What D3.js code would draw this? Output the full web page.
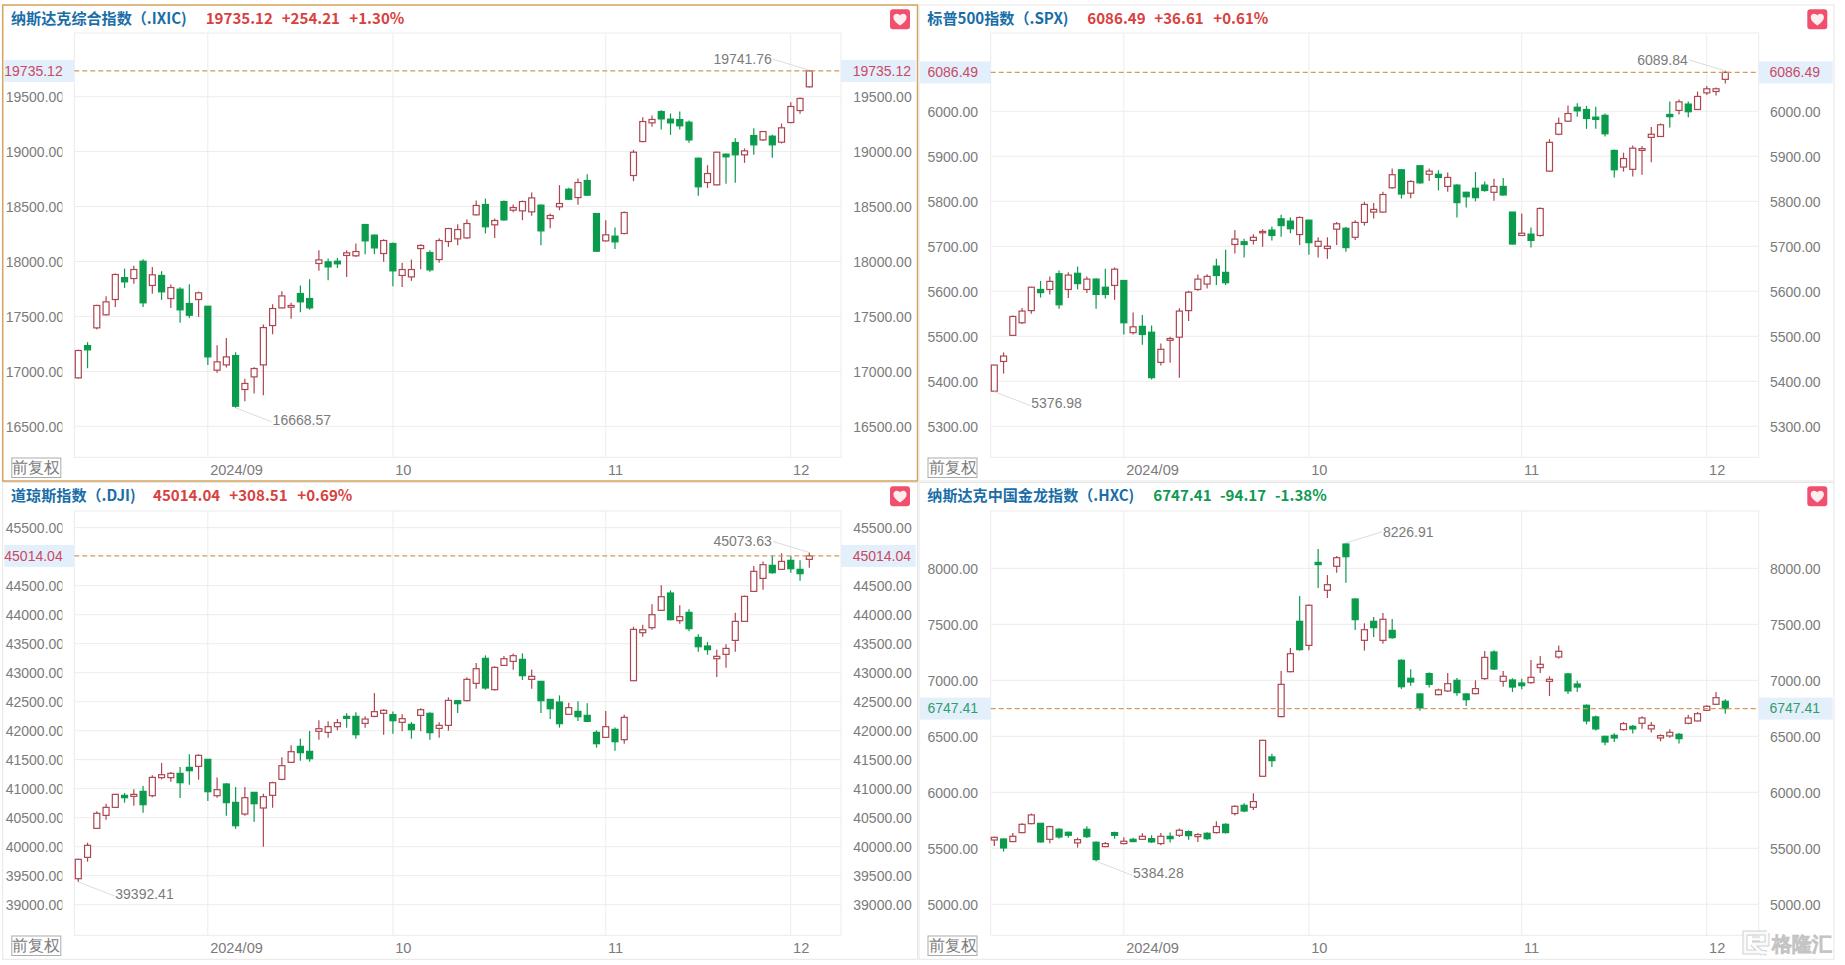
<!DOCTYPE html>
<html><head><meta charset="utf-8">
<style>
html,body{margin:0;padding:0;background:#fff;overflow:hidden}
text{font-family:"Liberation Sans",Arial,sans-serif}
.ttl{font-family:"Noto Sans CJK SC","Noto Sans",sans-serif;font-weight:700;font-size:15.1px}
</style>
<script src="https://cdn.jsdelivr.net/npm/d3@7/dist/d3.min.js"></script>
</head><body><svg id="c" width="1845" height="965"></svg>
<script>
const tradeDates = ["08-13","08-14","08-15","08-16","08-19","08-20","08-21","08-22","08-23","08-26","08-27","08-28","08-29","08-30",
"09-03","09-04","09-05","09-06","09-09","09-10","09-11","09-12","09-13","09-16","09-17","09-18","09-19","09-20","09-23","09-24","09-25","09-26","09-27","09-30",
"10-01","10-02","10-03","10-04","10-07","10-08","10-09","10-10","10-11","10-14","10-15","10-16","10-17","10-18","10-21","10-22","10-23","10-24","10-25","10-28","10-29","10-30","10-31",
"11-01","11-04","11-05","11-06","11-07","11-08","11-11","11-12","11-13","11-14","11-15","11-18","11-19","11-20","11-21","11-22","11-25","11-26","11-27","11-29",
"12-02","12-03","12-04"];
const monthStarts = ["09-03","10-01","11-01","12-02"];
const monthLabels = ["2024/09","10","11","12"];

const ixicOpen=[16941,17235,17396,17515,17654,17854,17845,18003,17782,17873,17663,17748,17618,17654,17593,17011,17059,17144,16835,16950,17059,17417,17578,17584,17709,17663,17982,17997,18003,18055,18052,18337,18240,18073,18164,17873,17860,18118,18082,18018,18182,18206,18215,18425,18519,18334,18546,18467,18461,18452,18513,18391,18498,18658,18582,18737,18437,18188,18231,18255,18783,19092,19262,19365,19296,19292,19268,18940,18719,18698,18977,19083,18971,19147,19107,19141,19086,19265,19374,19590];
const ixicHigh=[17196,17266,17606,17684,17891,17936,17961,18021,17951,17912,17791,17766,17794,17727,17593,17238,17305,17175,16932,17038,17427,17612,17730,17624,17782,17839,18103,18027,18033,18103,18164,18337,18246,18203,18173,17988,18018,18158,18103,18212,18306,18340,18382,18555,18573,18391,18555,18519,18555,18628,18519,18437,18695,18671,18755,18795,18437,18376,18309,18455,19016,19314,19329,19377,19347,19365,19283,18947,18877,18998,18983,19123,19029,19214,19189,19153,19256,19450,19493,19741.76];
const ixicLow=[16932,17029,17381,17508,17587,17760,17797,17587,17706,17651,17578,17442,17487,17496,17059,16987,17035,16668.57,16729,16799,16783,17339,17572,17478,17539,17560,17915,17830,17942,17860,18042,18067,18067,17997,17775,17769,17824,17930,17906,17988,18133,18149,18206,18419,18255,18215,18370,18449,18376,18416,18149,18303,18467,18561,18516,18598,18088,18182,18115,18249,18731,19086,19226,19201,19153,19201,19080,18598,18670,18692,18707,18716,18898,18971,19098,18944,19074,19259,19344,19584];
const ixicClose=[17190,17196,17600,17633,17882,17815,17927,17624,17879,17724,17763,17560,17511,17715,17132,17087,17132,16683,16890,17026,17399,17572,17687,17600,17633,17578,18015,17951,17979,18079,18091,18188,18124,18191,17915,17927,17927,18146,17924,18191,18300,18291,18346,18510,18316,18373,18379,18491,18546,18579,18279,18419,18528,18567,18719,18604,18094,18243,18179,18446,18995,19274,19293,19298,19262,19235,19107,18680,18801,18995,18953,18971,19007,19062,19183,19062,19217,19411,19484,19735.12];

const spxOpen=[5378,5444,5502,5530,5557,5604,5604,5639,5604,5640,5604,5627,5609,5613,5624,5508,5522,5509,5442,5491,5498,5557,5604,5616,5656,5642,5704,5710,5713,5730,5736,5761,5756,5726,5758,5700,5695,5738,5740,5720,5753,5776,5776,5830,5870,5818,5879,5860,5860,5833,5836,5820,5829,5836,5820,5833,5776,5724,5727,5724,5867,5949,5978,6009,6004,5987,5991,5913,5876,5871,5913,5942,5944,5993,6002,6016,6004,6041,6044,6071];
const spxHigh=[5436,5464,5546,5563,5610,5623,5633,5646,5642,5655,5633,5629,5650,5653,5624,5553,5547,5524,5484,5499,5562,5601,5637,5638,5672,5692,5736,5717,5727,5738,5744,5770,5764,5766,5759,5720,5720,5754,5743,5758,5799,5796,5821,5873,5871,5847,5880,5873,5869,5864,5838,5821,5865,5844,5850,5852,5776,5773,5742,5786,5938,5986,6013,6018,6012,6010,5995,5915,5908,5924,5923,5965,5973,6022,6026,6022,6044,6056,6053,6089.84];
const spxLow=[5376.98,5417,5502,5527,5550,5586,5593,5561,5585,5604,5596,5561,5584,5581,5504,5504,5481,5404,5435,5441,5408,5534,5601,5606,5614,5614,5684,5675,5704,5699,5713,5721,5729,5703,5681,5675,5672,5703,5688,5714,5746,5762,5775,5828,5806,5807,5839,5845,5824,5821,5764,5786,5800,5821,5801,5813,5704,5723,5697,5722,5866,5947,5976,5988,5961,5961,5944,5853,5866,5855,5859,5887,5943,5964,5993,5987,6004,6036,6035,6062];
const spxClose=[5436,5456,5544,5556,5609,5597,5622,5570,5636,5617,5627,5593,5593,5649,5530,5521,5504,5408,5471,5495,5556,5598,5627,5633,5635,5619,5716,5704,5720,5733,5724,5746,5739,5764,5708,5711,5700,5750,5697,5753,5793,5782,5815,5859,5816,5844,5841,5867,5853,5853,5797,5810,5808,5824,5833,5814,5705,5729,5713,5784,5931,5973,5995,6001,5984,5982,5950,5870,5895,5918,5917,5949,5970,5988,6021,5999,6033,6050,6050,6086.49];

const djiOpen=[39448,39816,40316,40540,40678,40885,40868,40954,40879,41190,41190,41264,41368,41385,41506,40879,41081,40764,40563,40937,40667,40885,41161,41454,41730,41644,41989,41971,42069,42247,42247,42126,42247,42299,42276,42144,42109,42264,42299,42040,42092,42517,42517,42816,43247,42707,43126,43195,43230,42885,42851,42540,42494,42282,42333,42264,41971,41885,42023,41845,42862,43690,43776,44075,44374,43897,44040,43609,43460,43241,43316,43557,43885,44402,44626,44851,44782,44937,44782,44954];
const djiHigh=[39793,40069,40609,40741,40914,40925,40989,41046,41230,41443,41287,41374,41592,41592,41506,41195,41092,41029,41029,40937,40914,41121,41540,41747,41862,41994,42178,42161,42201,42299,42316,42247,42649,42368,42333,42282,42149,42385,42316,42144,42575,42529,42920,43167,43299,43109,43287,43333,43333,43057,42856,42546,42609,42483,42506,42471,42006,42339,42057,42276,43793,43828,44178,44506,44420,44161,44092,43661,43529,43397,43489,44034,44328,44839,44919,45023,45060,45011,44937,45073.63];
const djiLow=[39392.41,39741,40305,40466,40667,40759,40707,40586,40851,41161,41121,40839,41069,41155,40787,40845,40535,40310,40535,40431,40000,40672,41144,41443,41483,41466,41845,41879,42006,42052,41862,42052,42230,41931,41948,41989,41862,41989,41845,41879,42000,42305,42506,42724,42707,42695,43115,43052,42874,42724,42305,42201,42052,42270,42167,42155,41707,41874,41655,41776,42856,43621,43741,44063,43902,43845,43713,43362,43310,42925,43086,43362,43874,44391,44431,44707,44770,44724,44586,44810];
const djiClose=[39782,40023,40575,40678,40902,40845,40902,40724,41195,41241,41264,41103,41310,41575,40948,40983,40759,40362,40845,40741,40862,41103,41397,41638,41621,41517,42034,42069,42138,42213,41931,42201,42328,42351,42172,42207,42017,42362,41966,42092,42523,42466,42885,43069,42736,43092,43241,43293,42948,42937,42517,42379,42121,42397,42241,42161,41776,42069,41810,42230,43747,43741,44000,44310,43914,43966,43759,43448,43397,43282,43419,43885,44316,44747,44862,44724,44919,44793,44707,45014.04];

const hxcOpen=[5574,5583,5560,5640,5720,5723,5580,5670,5643,5548,5670,5554,5515,5640,5542,5580,5580,5586,5542,5607,5616,5649,5604,5634,5640,5714,5810,5884,5866,6143,6316,6676,7077,7527,7312,8053,7804,8018,8217,7726,7357,7527,7357,7446,7179,7018,6878,7060,6872,6905,7000,6878,6881,7015,7253,6991,7003,6976,6979,7113,6991,7208,7057,6967,6777,6673,6500,6509,6560,6589,6616,6566,6485,6503,6518,6616,6637,6732,6786,6813];
const hxcHigh=[5604,5589,5637,5723,5810,5723,5702,5679,5649,5595,5697,5560,5557,5649,5598,5595,5634,5616,5637,5640,5676,5661,5637,5643,5741,5723,5884,5902,5991,6470,6345,7083,7289,7753,7676,8173,7940,8110,8226.91,7732,7509,7565,7601,7548,7187,7098,6884,7071,6926,7065,7021,6884,7000,7262,7268,7083,7018,7015,7182,7217,7036,7312,7065,6997,6786,6685,6506,6527,6628,6601,6679,6628,6518,6563,6530,6693,6717,6777,6896,6830];
const hxcLow=[5521,5470,5554,5634,5714,5551,5545,5586,5595,5506,5592,5384.28,5509,5586,5536,5554,5575,5548,5527,5551,5601,5577,5557,5577,5631,5631,5792,5821,5842,6137,6226,6670,7071,7265,7268,7824,7735,7961,7872,7449,7265,7387,7327,7372,6923,6952,6729,6935,6866,6896,6863,6771,6875,7006,7092,6943,6896,6920,6970,7065,6860,7193,6878,6896,6607,6551,6420,6449,6551,6524,6568,6533,6455,6488,6435,6607,6634,6726,6780,6702];
const hxcClose=[5598,5503,5607,5714,5798,5557,5694,5601,5616,5577,5604,5399,5542,5616,5563,5560,5607,5557,5607,5586,5661,5613,5622,5586,5694,5640,5875,5833,5917,6464,6283,6964,7238,7274,7670,8033,7854,8095,8104,7542,7452,7470,7545,7381,6943,6985,6753,6964,6914,6970,6890,6827,6926,7205,7101,7036,6940,6952,7027,7143,7009,7259,6905,6940,6637,6566,6449,6485,6613,6566,6664,6598,6506,6536,6479,6664,6702,6768,6845,6747.41];

const ixicTicks=[19500,19000,18500,18000,17500,17000,16500];
const spxTicks=[6000,5900,5800,5700,5600,5500,5400,5300];
const djiTicks=[45500,44500,44000,43500,43000,42500,42000,41500,41000,40500,40000,39500,39000];
const hxcTicks=[8000,7500,7000,6500,6000,5500,5000];

const panelNames=["纳斯达克综合指数（.IXIC)","标普500指数（.SPX)","道琼斯指数（.DJI)","纳斯达克中国金龙指数（.HXC)"];
const panelPrices=["19735.12","6086.49","45014.04","6747.41"];
const panelChanges=["+254.21","+36.61","+308.51","-94.17"];
const panelPercents=["+1.30%","+0.61%","+0.69%","-1.38%"];
const refPrices=[19735.12,6086.49,45014.04,6747.41];

const RED="#ad4650",GREEN="#0a9b4c";
const svg=d3.select("#c");
const defs=svg.append("defs");

function panel(cfg){
  const {id,o,h,l,c,ticks,dom,yr,name,price,chg,pct,ref,
         box,plot,xr,leftX,leftPriceX,clipLeft,rightX,titleX,valX,titleY,boxL,boxR,btnX,btnY,heartX,heartY,
         border,upDown,hiSide}=cfg;
  const rows=tradeDates.map((d,i)=>({d,o:o[i],h:h[i],l:l[i],c:c[i]}));
  const x=d3.scalePoint().domain(tradeDates).range(xr);
  const y=d3.scaleLinear().domain(dom).range(yr);
  const g=svg.append("g").attr("class",id);

  g.append("rect").attr("x",plot.l).attr("y",yr[0]).attr("width",plot.r-plot.l).attr("height",yr[1]-yr[0])
    .attr("fill","#fff").attr("stroke","#ececec");
  g.append("g").selectAll("line").data(ticks).join("line")
    .attr("x1",plot.l).attr("x2",plot.r).attr("y1",d=>y(d)).attr("y2",d=>y(d))
    .attr("stroke","#ececec");
  g.append("g").selectAll("line").data(monthStarts).join("line")
    .attr("x1",d=>x(d)).attr("x2",d=>x(d)).attr("y1",yr[0]).attr("y2",yr[1])
    .attr("stroke","#ececec");

  const isUp=upDown>0;
  const priceCol=isUp?"#c94a63":"#2f9e6a";
  [[boxL,leftPriceX],[boxR,rightX-0.6]].forEach(([b,tx])=>{
    g.append("rect").attr("x",b[0]).attr("y",y(ref)-11).attr("width",b[1]-b[0]).attr("height",22).attr("fill","#e3effb");
    g.append("text").attr("x",tx).attr("y",y(ref)).attr("dy",".34em").attr("font-size",14).attr("fill",priceCol).text(d3.format(".2f")(ref));
  });

  const clipId="clip-"+id;
  defs.append("clipPath").attr("id",clipId).append("rect").attr("x",0).attr("y",yr[0]-30).attr("width",clipLeft).attr("height",yr[1]-yr[0]+60);
  const fmt=d3.format(".2f");
  const axL=g.append("g").attr("clip-path",`url(#${clipId})`).append("g").attr("transform",`translate(${leftX},0.4)`)
    .call(d3.axisRight(y).tickValues(ticks).tickFormat(fmt).tickSize(0).tickPadding(0));
  const axR=g.append("g").attr("transform",`translate(${rightX},0.4)`)
    .call(d3.axisRight(y).tickValues(ticks).tickFormat(fmt).tickSize(0).tickPadding(0));
  [axL,axR].forEach(a=>{a.select(".domain").remove();
    a.selectAll("text").attr("font-size",14).attr("font-family","'Liberation Sans',Arial,sans-serif").attr("fill","#7b7b7b");});
  const axB=g.append("g").attr("transform",`translate(0,${yr[1]})`)
    .call(d3.axisBottom(x).tickValues(monthStarts).tickFormat((d,i)=>monthLabels[i]).tickSize(0).tickPadding(7));
  axB.select(".domain").remove();
  axB.selectAll("text").attr("font-size",14.6).attr("text-anchor","start").attr("dx",1.8)
     .attr("font-family","'Liberation Sans',Arial,sans-serif").attr("fill","#7b7b7b");

  const cg=g.append("g");
  const bw=6;
  const cand=cg.selectAll("g").data(rows).join("g");
  cand.append("line").attr("x1",d=>x(d.d)).attr("x2",d=>x(d.d))
     .attr("y1",d=>y(d.h)).attr("y2",d=>y(d.l))
     .attr("stroke",d=>d.c>=d.o?RED:GREEN).attr("stroke-width",1.2);
  cand.append("rect").attr("x",d=>x(d.d)-bw/2).attr("width",bw)
     .attr("y",d=>y(Math.max(d.o,d.c))).attr("height",d=>Math.max(1,Math.abs(y(d.o)-y(d.c))))
     .attr("fill",d=>d.c>=d.o?"#fff":GREEN).attr("stroke",d=>d.c>=d.o?RED:GREEN).attr("stroke-width",1.2);

  g.append("line").attr("x1",plot.l).attr("x2",plot.r).attr("y1",y(ref)).attr("y2",y(ref))
    .attr("stroke","#d39a63").attr("stroke-width",1.1).attr("stroke-dasharray","5,3");

  const hiRow=rows.reduce((a,b)=>b.h>a.h?b:a), loRow=rows.reduce((a,b)=>b.l<a.l?b:a);
  const note=(row,val,isHi)=>{
    const cx=x(row.d),cy=y(val);
    const right=isHi?hiSide>0:true;
    const tx=right?cx+37:cx-37.5, ty=isHi?cy-11:cy+12;
    g.append("line").attr("x1",cx).attr("y1",cy).attr("x2",right?tx-1:tx+1).attr("y2",isHi?ty:ty+2)
      .attr("stroke","#dcdcdc");
    g.append("text").attr("x",tx).attr("y",ty).attr("dy",".34em").attr("text-anchor",right?"start":"end")
      .attr("font-size",14).attr("fill","#7b7b7b").text(d3.format(".2f")(val));
  };
  note(hiRow,hiRow.h,true); note(loRow,loRow.l,false);

  const upCol=isUp?"#d9413f":"#109a54";
  g.append("text").attr("class","ttl").attr("x",titleX).attr("y",titleY).attr("dy",".36em").attr("fill","#1a6ea8").text(name);
  [price,chg,pct].forEach((t,i)=>g.append("text").attr("class","ttl").attr("x",valX[i]).attr("y",titleY).attr("dy",".36em").attr("fill",upCol).text(t));

  const hg=g.append("g").attr("transform",`translate(${heartX},${heartY})`);
  hg.append("rect").attr("width",20).attr("height",20).attr("rx",3).attr("fill","#f24e6e");
  hg.append("path").attr("d","M10 16.2C6 13.4 3.4 11 3.4 8 3.4 5.8 5 4.4 6.8 4.4 8.2 4.4 9.4 5.2 10 6.2 10.6 5.2 11.8 4.4 13.2 4.4 15 4.4 16.6 5.8 16.6 8 16.6 11 14 13.4 10 16.2Z").attr("fill","#fff0f0");

  g.append("rect").attr("x",btnX+.5).attr("y",btnY+.5).attr("width",49).attr("height",19.5).attr("fill","#fff").attr("stroke","#ababab");
  g.append("text").attr("x",btnX+25).attr("y",btnY+10).attr("dy",".36em").attr("text-anchor","middle")
    .attr("font-family","'Noto Sans CJK SC',sans-serif").attr("font-size",15.5).attr("fill","#7b7b7b").text("前复权");

  g.append("rect").attr("x",box[0]).attr("y",box[1]).attr("width",box[2]-box[0]).attr("height",box[3]-box[1])
    .attr("fill","none").attr("stroke",border).attr("stroke-width",border==="#d3a25c"?1.5:1);
}

panel({id:"ixic",o:ixicOpen,h:ixicHigh,l:ixicLow,c:ixicClose,ticks:ixicTicks,dom:[20080,16218],yr:[33,457.3],
  name:panelNames[0],price:panelPrices[0],chg:panelChanges[0],pct:panelPercents[0],ref:refPrices[0],
  box:[2.7,5,917.5,481],plot:{l:74.3,r:841},xr:[78.3,809.3],leftX:5.7,leftPriceX:4.3,clipLeft:62.4,rightX:853.3,
  titleX:11,valX:[205.7,281.7,349.3],titleY:18.7,boxL:[4.3,74.3],boxR:[841,915.7],btnX:11.3,btnY:457.5,heartX:890,heartY:9.3,
  border:"#d3a25c",upDown:1,hiSide:-1});
panel({id:"spx",o:spxOpen,h:spxHigh,l:spxLow,c:spxClose,ticks:spxTicks,dom:[6174,5231],yr:[33,457.3],
  name:panelNames[1],price:panelPrices[1],chg:panelChanges[1],pct:panelPercents[1],ref:refPrices[1],
  box:[919,5,1834,481],plot:{l:990.7,r:1758.7},xr:[994.3,1725.3],leftX:927.5,leftPriceX:927.5,clipLeft:1000,rightX:1770,
  titleX:927.3,valX:[1087.3,1154.3,1213.3],titleY:18.7,boxL:[920,990.7],boxR:[1758.7,1832.7],btnX:927.5,btnY:457.5,heartX:1807.3,heartY:9.3,
  border:"#e6e6e6",upDown:1,hiSide:-1});
panel({id:"dji",o:djiOpen,h:djiHigh,l:djiLow,c:djiClose,ticks:djiTicks,dom:[45788,38472],yr:[511,935.3],
  name:panelNames[2],price:panelPrices[2],chg:panelChanges[2],pct:panelPercents[2],ref:refPrices[2],
  box:[2.7,482.5,917.5,959.3],plot:{l:74.3,r:841},xr:[78.3,809.3],leftX:5.7,leftPriceX:4.3,clipLeft:62.4,rightX:853.3,
  titleX:11,valX:[153,229.3,297.3],titleY:496,boxL:[4.3,74.3],boxR:[841,915.7],btnX:11.3,btnY:935.5,heartX:890,heartY:486.3,
  border:"#e6e6e6",upDown:1,hiSide:-1});
panel({id:"hxc",o:hxcOpen,h:hxcHigh,l:hxcLow,c:hxcClose,ticks:hxcTicks,dom:[8512,4723],yr:[511,935.3],
  name:panelNames[3],price:panelPrices[3],chg:panelChanges[3],pct:panelPercents[3],ref:refPrices[3],
  box:[919,482.5,1834,959.3],plot:{l:990.7,r:1758.7},xr:[994.3,1725.3],leftX:927.5,leftPriceX:927.5,clipLeft:1000,rightX:1770,
  titleX:927.3,valX:[1153.3,1220,1275],titleY:496,boxL:[920,990.7],boxR:[1758.7,1832.7],btnX:927.5,btnY:935.5,heartX:1807.3,heartY:486.3,
  border:"#e6e6e6",upDown:-1,hiSide:1});

// watermark
const wm=svg.append("g").attr("transform","translate(1743,930)");
const wmPath="M24 3H2V22H16L24 23M24 3V14H9M9 9H17M9 14L20 24";
wm.append("path").attr("d",wmPath).attr("fill","none").attr("stroke","#cfcfcf").attr("stroke-width",5);
wm.append("path").attr("d",wmPath).attr("fill","none").attr("stroke","#fafafa").attr("stroke-width",3);
wm.append("text").attr("x",29).attr("y",21).attr("font-family","'Noto Sans CJK SC',sans-serif").attr("font-weight",700).attr("font-size",20)
  .attr("fill","#f7f7f7").attr("stroke","#c4c4c4").attr("stroke-width",.7).text("格隆汇");
</script></body></html>
